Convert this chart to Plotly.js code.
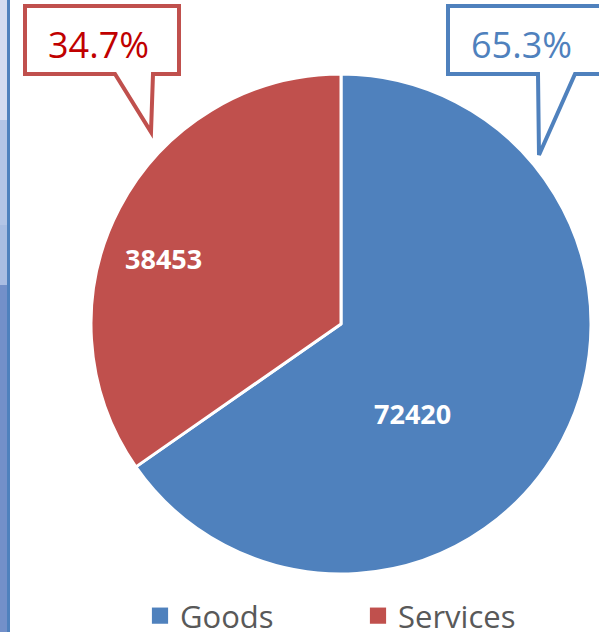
<!DOCTYPE html>
<html>
<head>
<meta charset="utf-8">
<script src="https://cdn.plot.ly/plotly-3.0.1.min.js"></script>
<style>
  html, body { margin: 0; padding: 0; background: #ffffff; }
  #chart { width: 599px; height: 632px; }
</style>
</head>
<body>
<div id="chart"></div>
<script>
// ---- data ----
var categories = ["Goods", "Services"];
var values = [72420, 38453];
var sliceColors = ["#4F81BD", "#C0504D"];

// ---- helpers ----
var W = 599, H = 632;
function px(x) { return x / W; }
function py(y) { return 1 - y / H; }
function pathPx(cmds) {
  return cmds.map(function (c) {
    if (c[0] === 'Z') return 'Z';
    return c[0] + px(c[1]).toFixed(5) + ',' + py(c[2]).toFixed(5);
  }).join(' ');
}

var total = values.reduce(function (a, b) { return a + b; }, 0);
var pct = values.map(function (v) { return (v / total * 100).toFixed(1) + '%'; });

var trace = {
  type: 'pie',
  labels: categories,
  values: values,
  sort: false,
  direction: 'clockwise',
  rotation: 0,
  marker: { colors: sliceColors, line: { color: '#ffffff', width: 3 } },
  textinfo: 'none',
  hoverinfo: 'label+value+percent',
  domain: { x: [px(91), px(591)], y: [py(575), py(73)] }
};

var shapes = [
  // left decorative strip
  { type: 'rect', xref: 'paper', yref: 'paper', x0: 0, x1: px(7), y0: py(0), y1: py(120), fillcolor: '#d3dcf1', line: { width: 0 }, layer: 'below' },
  { type: 'rect', xref: 'paper', yref: 'paper', x0: 0, x1: px(7), y0: py(120), y1: py(225), fillcolor: '#b4c5e6', line: { width: 0 }, layer: 'below' },
  { type: 'rect', xref: 'paper', yref: 'paper', x0: 0, x1: px(7), y0: py(225), y1: py(285), fillcolor: '#a9bde2', line: { width: 0 }, layer: 'below' },
  { type: 'rect', xref: 'paper', yref: 'paper', x0: 0, x1: px(7), y0: py(285), y1: py(632), fillcolor: '#7390c9', line: { width: 0 }, layer: 'below' },
  { type: 'rect', xref: 'paper', yref: 'paper', x0: px(7), x1: px(10), y0: py(0), y1: py(632), fillcolor: '#4F81BD', line: { width: 0 }, layer: 'below' },
  // red callout
  { type: 'path', xref: 'paper', yref: 'paper',
    path: pathPx([['M', 25, 6], ['L', 179, 6], ['L', 179, 74], ['L', 153, 74], ['L', 151, 132], ['L', 115, 74], ['L', 25, 74], ['Z']]),
    fillcolor: '#ffffff', line: { color: sliceColors[1], width: 4 } },
  // blue callout
  { type: 'path', xref: 'paper', yref: 'paper',
    path: pathPx([['M', 448, 6], ['L', 604, 6], ['L', 604, 74], ['L', 575, 74], ['L', 539, 155], ['L', 538, 74], ['L', 448, 74], ['Z']]),
    fillcolor: '#ffffff', line: { color: sliceColors[0], width: 4 } }
];

var annotations = [
  { xref: 'paper', yref: 'paper', x: px(98), y: py(44), xanchor: 'center', yanchor: 'middle', showarrow: false,
    text: pct[1], font: { family: 'Open Sans', size: 36, color: '#C00000' } },
  { xref: 'paper', yref: 'paper', x: px(521), y: py(44), xanchor: 'center', yanchor: 'middle', showarrow: false,
    text: pct[0], font: { family: 'Open Sans', size: 36, color: '#4F81BD' } },
  { xref: 'paper', yref: 'paper', x: px(163), y: py(258), xanchor: 'center', yanchor: 'middle', showarrow: false,
    text: '<b>' + values[1] + '</b>', font: { family: 'Open Sans', size: 27, color: '#ffffff' } },
  { xref: 'paper', yref: 'paper', x: px(412), y: py(413), xanchor: 'center', yanchor: 'middle', showarrow: false,
    text: '<b>' + values[0] + '</b>', font: { family: 'Open Sans', size: 27, color: '#ffffff' } }
];

var layout = {
  width: W, height: H,
  margin: { l: 0, r: 0, t: 0, b: 0, pad: 0, autoexpand: false },
  paper_bgcolor: '#ffffff',
  showlegend: true,
  legend: {
    orientation: 'h',
    x: px(140), xanchor: 'left',
    y: py(616), yanchor: 'middle',
    entrywidth: 173, entrywidthmode: 'pixels',
    font: { family: 'Open Sans', size: 31, color: '#595959' },
    traceorder: 'normal'
  },
  shapes: shapes,
  annotations: annotations
};

function fixLegend() {
  document.querySelectorAll('.legendpoints path').forEach(function (p) {
    p.style.strokeWidth = '0px';
    p.setAttribute('transform', 'translate(20,0) scale(1.35)');
  });
}

var gd = document.getElementById('chart');
Plotly.newPlot(gd, [trace], layout, { displayModeBar: false, staticPlot: true }).then(function () {
  fixLegend();
  gd.on('plotly_afterplot', fixLegend);
  setTimeout(fixLegend, 50);
});
</script>
</body>
</html>
